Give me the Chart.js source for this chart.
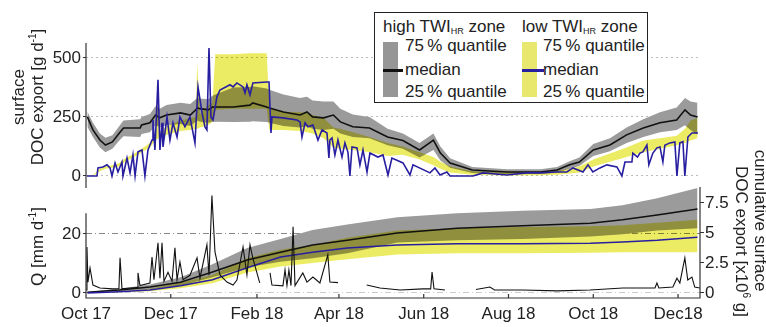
<!DOCTYPE html>
<html>
<head>
<meta charset="utf-8">
<script src="https://cdn.jsdelivr.net/npm/chart.js@4"></script>
<style>
  html, body { margin: 0; padding: 0; background: #fff; }
  #wrap { position: relative; width: 766px; height: 327px; overflow: hidden;
          font-family: "Liberation Sans", Arial, sans-serif; color: #222; }
  canvas { position: absolute; left: 0; top: 0; }
  .t { position: absolute; font-size: 17px; line-height: 20px; white-space: nowrap; }
  .rot { position: absolute; font-size: 17px; line-height: 19px; white-space: nowrap; text-align: center; }
  sup { font-size: 10px; vertical-align: 7px; line-height: 0; }
  sub { font-size: 9px; vertical-align: -2px; line-height: 0; }
  #legend { position: absolute; left: 374px; top: 12px; width: 272px; height: 89px;
            border: 1.5px solid #222; background: #fff; }
  .sw { position: absolute; }
</style>
</head>
<body>
<div id="wrap">
  <canvas id="top" width="766" height="327"></canvas>
  <canvas id="bot" width="766" height="327"></canvas>

  <div id="legend"></div>
  <div class="t" style="left:383px; top:17px;">high TWI<sub>HR</sub> zone</div>
  <div class="t" style="left:522px; top:17px;">low TWI<sub>HR</sub> zone</div>
  <div class="sw" style="left:383px; top:42px; width:15px; height:55px; background:rgb(150,150,150);"></div>
  <div class="sw" style="left:383px; top:69px; width:20px; height:2.5px; background:#111;"></div>
  <div class="sw" style="left:522px; top:42px; width:15px; height:55px; background:rgb(232,232,110);"></div>
  <div class="sw" style="left:522px; top:69px; width:22px; height:2.5px; background:rgb(40,30,160);"></div>
  <div class="t" style="left:405px; top:36px;">75&#8201;% quantile</div>
  <div class="t" style="left:405px; top:60px;">median</div>
  <div class="t" style="left:405px; top:82px;">25&#8201;% quantile</div>
  <div class="t" style="left:543px; top:36px;">75&#8201;% quantile</div>
  <div class="t" style="left:543px; top:60px;">median</div>
  <div class="t" style="left:543px; top:82px;">25&#8201;% quantile</div>

  <div class="rot" style="left:-57px; top:78px; width:170px; height:38px; transform:rotate(-90deg);">surface<br>DOC export [g d<sup>-1</sup>]</div>
  <div class="rot" style="left:-18px; top:237px; width:110px; height:19px; transform:rotate(-90deg);">Q [mm d<sup>-1</sup>]</div>
  <div class="rot" style="left:680px; top:211px; width:160px; height:19px; transform:rotate(90deg);">cumulative surface</div>
  <div class="rot" style="left:661px; top:232px; width:160px; height:19px; transform:rotate(90deg);">DOC export [x10<sup>6</sup> g]</div>
</div>

<script>
// x = days since 1 Oct 2017
const xTicks = [0, 61, 123, 182, 243, 304, 365, 426];
const xLabels = ["Oct 17", "Dec 17", "Feb 18", "Apr 18", "Jun 18", "Aug 18", "Oct 18", "Dec18"];
const xMax = 441.8;

// top panel: surface DOC export [g d-1]
const topTicks = [0, 250, 500];
const tDay = [1, 5, 10, 14, 19, 24, 27, 39, 40, 46, 50, 52, 53, 58, 68, 75, 79, 80, 82, 88,
  91, 93, 106, 118, 120, 130, 132, 142, 154, 159, 163, 171, 178, 183, 192, 204, 217, 228, 240, 250,
  255, 262, 278, 303, 327, 339, 348, 355, 365, 377, 389, 401, 413, 425, 431, 435, 440];
const hiMed = [250, 195, 152, 131, 144, 182, 203, 203, 216, 225, 258, 250, 246, 258, 267, 258, 280, 288, 285, 280,
  292, 292, 292, 300, 309, 292, 288, 271, 258, 271, 250, 246, 258, 229, 208, 203, 165, 150, 110, 152,
  97, 55, 25, 17, 17, 25, 47, 59, 110, 131, 174, 203, 225, 237, 280, 258, 250];
const hiQ25 = [208, 165, 120, 100, 115, 150, 168, 165, 178, 185, 215, 210, 205, 215, 220, 212, 230, 235, 230, 225,
  230, 230, 229, 230, 232, 228, 225, 212, 205, 210, 200, 195, 200, 180, 165, 160, 130, 115, 78, 110,
  65, 35, 12, 8, 8, 15, 30, 42, 85, 105, 140, 165, 185, 195, 215, 195, 175];
const hiQ75 = [272, 225, 180, 162, 172, 212, 235, 240, 250, 262, 295, 290, 285, 300, 310, 305, 325, 330, 328, 325,
  340, 345, 375, 377, 380, 370, 365, 345, 330, 335, 320, 315, 315, 285, 260, 250, 200, 180, 140, 180,
  125, 75, 38, 28, 28, 38, 62, 78, 135, 160, 205, 240, 270, 290, 330, 315, 310];
const loQ25 = [0, 0, 20, 30, 35, 40, 55, 95, 100, 120, 150, 160, 160, 175, 190, 195, 200, 200, 205, 215,
  230, 280, 285, 285, 285, 285, 195, 195, 190, 185, 180, 160, 120, 115, 110, 100, 85, 90, 70, 45,
  30, 15, 5, 2, 3, 5, 10, 15, 40, 60, 80, 100, 115, 130, 140, 150, 160];
const loQ75 = [2, 3, 30, 40, 45, 55, 70, 110, 115, 140, 175, 380, 185, 210, 235, 245, 250, 480, 260, 300,
  310, 515, 515, 520, 520, 520, 290, 272, 270, 265, 258, 245, 205, 200, 185, 165, 140, 125, 100, 80,
  60, 40, 20, 15, 18, 22, 30, 40, 70, 95, 120, 150, 160, 170, 200, 235, 245];
const bDay = [0.7, 7.9, 8.6, 12.2, 15.1, 17.3, 18.7, 20.9, 23, 25.9, 26.6, 29.5, 31.7, 33.8, 35.3, 37.4, 40.3, 42.4, 44.6, 47.5,
  48.2, 49.6, 51.8, 53.2, 54.7, 55.4, 58.3, 60.4, 62.6, 65.5, 67.6, 71.2, 74.8, 78.4, 80.6, 83.5, 85.6, 87, 88.5, 89.9,
  91.4, 94.2, 96.4, 103.6, 105.8, 108.6, 113, 114.4, 115.8, 118, 120.1, 130.2, 131.7, 133.1, 133.8, 141.7, 151.8, 154, 155.4, 157.6,
  159.7, 163.3, 166.9, 169.8, 173.4, 174.8, 175.5, 177, 179.1, 181.3, 184.2, 186.3, 188.5, 189.9, 191.4, 195, 197.1, 199.3, 202.2, 204.3,
  210, 213.7, 217.3, 220.1, 228.1, 233.1, 235.3, 247.5, 251.1, 254.7, 259.7, 261.9, 278.4, 285.6, 302.9, 317.3, 326.6, 338.8, 346, 350.4,
  357.6, 361.2, 364.7, 369.8, 374.8, 382, 385.6, 387.8, 392.8, 393.5, 396.8, 398.6, 400.7, 403.6, 405, 407.9, 410.8, 413, 415.1, 416.5,
  420.1, 423.7, 425.2, 427.3, 429.5, 430.9, 433.1, 436, 440.3];
const loMed = [0, 0, 34, 38, 47, 34, 0, 55, 17, 59, 0, 76, 13, 89, 0, 102, 110, 0, 110, 152,
  237, 110, 407, 110, 225, 123, 250, 152, 225, 165, 250, 208, 250, 140, 377, 267, 208, 195, 542, 250,
  237, 335, 364, 386, 377, 394, 377, 352, 386, 343, 394, 398, 398, 182, 250, 246, 237, 229, 165, 225,
  208, 216, 152, 195, 182, 76, 152, 161, 89, 152, 80, 140, 100, 0, 123, 119, 47, 110, 17, 97,
  80, 89, 4, 76, 55, 4, 47, 13, 34, 4, 17, 0, 0, 13, 4, 13, 13, 17, 17, 34,
  17, 47, 17, 34, 47, 38, 0, 59, 59, 97, 80, 97, 102, 131, 47, 97, 119, 123, 60, 130,
  140, 144, 0, 140, 145, 0, 165, 182, 182];

// bottom panel: Q [mm d-1] and cumulative surface DOC export [x10^6 g]
const qTicks = [0, 20];
const cTicks = [0, 2.5, 5, 7.5];
const qDay = [0, 0.7, 1.4, 2.9, 5, 10, 19.4, 23.7, 24.5, 25.9, 31.7, 36.7, 37.4, 38.8, 46, 47.5, 48.9, 51.8, 53.2, 54.7,
  56.1, 59, 61.9, 64, 65.5, 67.6, 69.8, 74.8, 79.9, 82, 87, 88.5, 90.6, 92.8, 96.4, 101.4, 105.8, 108.6, 113, 115.8,
  118, 120, 125, 128, 132.4, 133.8, 141.7, 143.2, 144.6, 146, 147.5, 149, 150.4, 156, 159, 163.3, 168.3, 174, 175.5, 181.3,
  190, 202, 211.5, 226, 242.4, 248, 249, 250.4, 258.3, 270, 280.6, 290.6, 294, 314, 339, 362.6, 386.3, 409.4, 410.8, 412.2,
  422.3, 425.2, 427.3, 430.9, 433, 436, 438, 441.7];
const qVal = [1, 15.6, 3.7, 8.5, 2.7, 1.7, 1.4, 1.5, 11.9, 1.4, 1.7, 1.8, 6.8, 2.5, 3.4, 12.2, 4.5, 17, 5, 17,
  4, 7, 4, 15.3, 4.5, 10.5, 4.5, 6, 11.9, 5, 16.3, 6, 33, 13.9, 6.1, 3.7, 2.7, 4.4, 15.6, 6.1,
  16.3, 11.9, 3.4, null, 6.8, 2.7, 2.4, 7.8, 2.5, 7.8, 2.5, 22.4, 2.5, 6.8, 3.7, 5.4, 3.4, 12.9, 3.7, 3.5,
  null, 2.7, 1.7, 1.0, 1.4, 1.4, 7.1, 1.4, 1.0, null, 1.2, 2.0, 1.0, 1.0, 0.7, 1.0, 1.7, 1.7, 3.4, 1.7,
  2, 5, 3.4, 11.9, 4.4, 5.4, 2, 1.7];
const cDay = [1, 24, 46, 68, 91, 116, 140, 163, 188, 224, 267, 314, 363, 386, 411, 440];
const cumHiMed = [0.05, 0.25, 0.5, 0.9, 1.75, 2.75, 3.4, 4.0, 4.4, 5.0, 5.4, 5.6, 5.8, 6.1, 6.5, 7.0];
const cumHiQ25 = [0.02, 0.15, 0.3, 0.6, 1.3, 2.15, 2.6, 2.9, 3.3, 4.2, 4.4, 4.5, 4.7, 4.9, 5.2, 5.4];
const cumHiQ75 = [0.08, 0.35, 0.7, 1.3, 2.4, 3.75, 4.5, 5.25, 5.7, 6.3, 6.65, 6.85, 7.0, 7.3, 7.9, 8.75];
const cumLoMed = [0, 0.1, 0.25, 0.6, 1.1, 2.1, 3.0, 3.4, 3.75, 4.0, 4.1, 4.1, 4.15, 4.25, 4.4, 4.65];
const cumLoQ25 = [0, 0.05, 0.15, 0.4, 0.8, 1.7, 2.2, 2.5, 2.8, 3.2, 3.3, 3.3, 3.35, 3.4, 3.4, 3.4];
const cumLoQ75 = [0.03, 0.15, 0.35, 0.85, 1.5, 2.9, 3.6, 4.0, 4.6, 5.2, 5.4, 5.5, 5.55, 5.65, 5.85, 6.1];

const GRAY = "rgb(155,155,155)";
const YELLOW = "rgb(236,236,100)";
const BLUE = "rgb(40,30,160)";
const FONT = { family: '"Liberation Sans", Arial, sans-serif', size: 17 };

const xy = (xs, ys) => xs.map((x, i) => ({ x: x, y: ys[i] }));
const line = (data, color, width, extra) => Object.assign({
  data: data, borderColor: color, borderWidth: width, pointRadius: 0, tension: 0, fill: false
}, extra || {});
const edge = (data, extra) => Object.assign({
  data: data, borderColor: "transparent", borderWidth: 0, pointRadius: 0, tension: 0, fill: false
}, extra || {});

// yellow band multiplied over the gray one -> olive overlap
const multiplyFill = {
  id: "multiplyFill",
  afterDatasetDraw(chart, args, opts) {
    if (args.index === opts.index + 1) chart.ctx.globalCompositeOperation = "multiply";
    if (args.index === opts.index) chart.ctx.globalCompositeOperation = "source-over";
  }
};

// axis lines + inward x ticks
const frame = {
  id: "frame",
  afterDatasetsDraw(chart) {
    const ctx = chart.ctx, a = chart.chartArea;
    ctx.save();
    ctx.strokeStyle = "#333";
    ctx.lineWidth = 1.2;
    ctx.beginPath();
    if (chart.canvas.id === "top") {
      ctx.moveTo(a.left, a.top);
      ctx.lineTo(a.left, a.bottom);
    } else {
      const yq = chart.scales.q.getPixelForValue(27);
      ctx.moveTo(a.left, yq);
      ctx.lineTo(a.left, a.bottom);
      ctx.lineTo(a.right, a.bottom);
      ctx.lineTo(a.right, a.top);
      xTicks.forEach(v => {
        const px = chart.scales.x.getPixelForValue(v);
        ctx.moveTo(px, a.bottom);
        ctx.lineTo(px, a.bottom - 4);
      });
    }
    ctx.stroke();
    ctx.restore();
  }
};

const baseOpts = {
  responsive: false,
  animation: false,
  devicePixelRatio: 1,
  events: []
};

new Chart(document.getElementById("top"), {
  type: "line",
  data: {
    datasets: [
      line(xy(bDay, loMed), BLUE, 1.6),
      line(xy(tDay, hiMed), "#111", 1.6),
      edge(xy(tDay, loQ25)),
      edge(xy(tDay, loQ75), { fill: "-1", backgroundColor: YELLOW }),
      edge(xy(tDay, hiQ25)),
      edge(xy(tDay, hiQ75), { fill: "-1", backgroundColor: GRAY })
    ]
  },
  options: Object.assign({}, baseOpts, {
    layout: { padding: { left: 0, top: 43, right: 66, bottom: 139 } },
    plugins: {
      legend: { display: false },
      tooltip: { enabled: false },
      filler: { drawTime: "beforeDatasetDraw" },
      multiplyFill: { index: 3 }
    },
    scales: {
      x: { type: "linear", display: false, min: 0, max: xMax },
      y: {
        type: "linear", min: -51, max: 563,
        afterFit(s) { s.width = 86; },
        afterBuildTicks(s) { s.ticks = topTicks.map(v => ({ value: v })); },
        ticks: { font: FONT, color: "#222", padding: 2 },
        grid: { color: "#bbb", lineWidth: 1, tickLength: 3, tickColor: "#333" },
        border: { display: false, dash: [2, 3] }
      }
    }
  }),
  plugins: [multiplyFill, frame]
});

new Chart(document.getElementById("bot"), {
  type: "line",
  data: {
    datasets: [
      line(xy(qDay, qVal), "#111", 1.1, { yAxisID: "q", spanGaps: false }),
      line(xy(cDay, cumLoMed), BLUE, 1.5, { yAxisID: "c" }),
      line(xy(cDay, cumHiMed), "#111", 1.5, { yAxisID: "c" }),
      edge(xy(cDay, cumLoQ25), { yAxisID: "c" }),
      edge(xy(cDay, cumLoQ75), { yAxisID: "c", fill: "-1", backgroundColor: YELLOW }),
      edge(xy(cDay, cumHiQ25), { yAxisID: "c" }),
      edge(xy(cDay, cumHiQ75), { yAxisID: "c", fill: "-1", backgroundColor: GRAY })
    ]
  },
  options: Object.assign({}, baseOpts, {
    layout: { padding: { left: 0, top: 187, right: 0, bottom: 0 } },
    plugins: {
      legend: { display: false },
      tooltip: { enabled: false },
      filler: { drawTime: "beforeDatasetDraw" },
      multiplyFill: { index: 4 }
    },
    scales: {
      x: {
        type: "linear", min: 0, max: xMax,
        afterFit(s) { s.height = 29; },
        afterBuildTicks(s) { s.ticks = xTicks.map(v => ({ value: v })); },
        ticks: { font: FONT, color: "#222", padding: 6, maxRotation: 0, autoSkip: false,
                 callback: (v, i) => xLabels[i] },
        grid: { drawOnChartArea: false, drawTicks: false },
        border: { display: false }
      },
      q: {
        type: "linear", position: "left", min: -1.7, max: 35.9,
        afterFit(s) { s.width = 86; },
        afterBuildTicks(s) { s.ticks = qTicks.map(v => ({ value: v })); },
        ticks: { font: FONT, color: "#222", padding: 2 },
        grid: { color: c => c.tick && c.tick.value === 20 ? "#888" : "#ccc",
                lineWidth: 1, tickLength: 3, tickColor: "#333" },
        border: { display: false, dash: [6, 3, 1, 3] }
      },
      c: {
        type: "linear", position: "right", min: -0.42, max: 8.83,
        afterFit(s) { s.width = 66; },
        afterBuildTicks(s) { s.ticks = cTicks.map(v => ({ value: v })); },
        ticks: { font: FONT, color: "#222", padding: 1 },
        grid: { drawOnChartArea: false, tickLength: 4, tickColor: "#333" },
        border: { display: false }
      }
    }
  }),
  plugins: [multiplyFill, frame]
});
</script>
</body>
</html>
